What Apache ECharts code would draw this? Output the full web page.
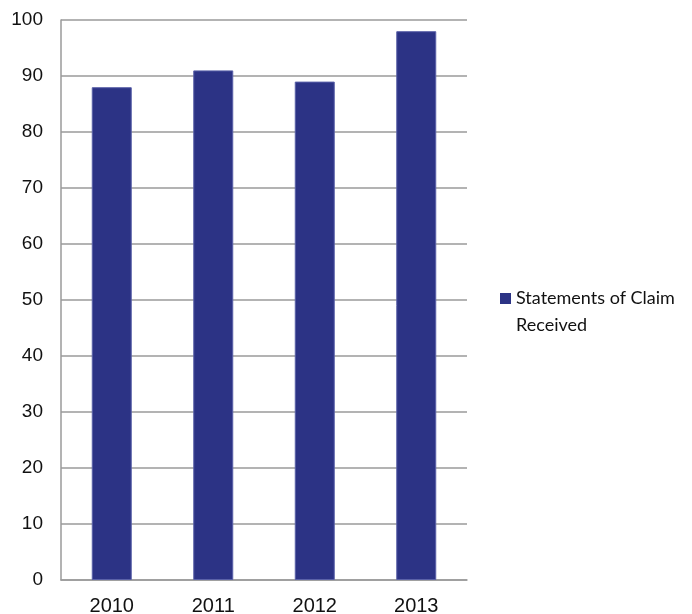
<!DOCTYPE html>
<html>
<head>
<meta charset="utf-8">
<script src="https://cdn.jsdelivr.net/npm/echarts@6/dist/echarts.min.js"></script>
<style>
  html, body { margin: 0; padding: 0; background: #fff; }
  #chart { width: 692px; height: 614px; }
</style>
</head>
<body>
<div id="chart"></div>
<script>
// Yearly counts of statements of claim received
const years = ['2010', '2011', '2012', '2013'];
const claimsReceived = [88, 91, 89, 98];
const seriesName = 'Statements of Claim Received';

const chart = echarts.init(document.getElementById('chart'), null, { renderer: 'canvas' });

chart.setOption({
  animation: false,
  backgroundColor: '#ffffff',
  grid: {
    left: 61, top: 20, right: 225, bottom: 34,
    containLabel: false,
    outerBoundsMode: 'none'
  },
  legend: {
    data: [seriesName],
    orient: 'vertical',
    left: 500,
    top: 258,
    padding: 0,
    icon: 'rect',
    itemWidth: 11,
    itemHeight: 11,
    itemStyle: { borderWidth: 0 },
    // blank first line keeps the icon level with the first text line
    formatter: () => ' \nStatements of Claim\nReceived',
    textStyle: {
      fontFamily: 'Lato, "Open Sans", sans-serif',
      fontSize: 18,
      color: '#111',
      lineHeight: 27
    }
  },
  xAxis: {
    type: 'category',
    data: years,
    axisLine: { show: true, lineStyle: { color: '#9a9a9a', width: 1.5 } },
    axisTick: { show: false },
    axisLabel: {
      fontFamily: '"Liberation Sans", Arial, sans-serif',
      fontSize: 20,
      color: '#111',
      margin: 16
    }
  },
  yAxis: {
    type: 'value',
    min: 0,
    max: 100,
    interval: 10,
    axisLine: { show: true, lineStyle: { color: '#9a9a9a', width: 1.5 } },
    axisTick: { show: false },
    splitLine: { show: true, lineStyle: { color: '#9a9a9a', width: 1.5 } },
    axisLabel: {
      fontFamily: '"Liberation Sans", Arial, sans-serif',
      fontSize: 19,
      color: '#111',
      margin: 18
    }
  },
  series: [{
    name: seriesName,
    type: 'bar',
    data: claimsReceived,
    barWidth: 40,
    itemStyle: {
      color: '#2c3385',
      borderColor: '#5a61a8',
      borderWidth: 1
    }
  }]
});
</script>
</body>
</html>
